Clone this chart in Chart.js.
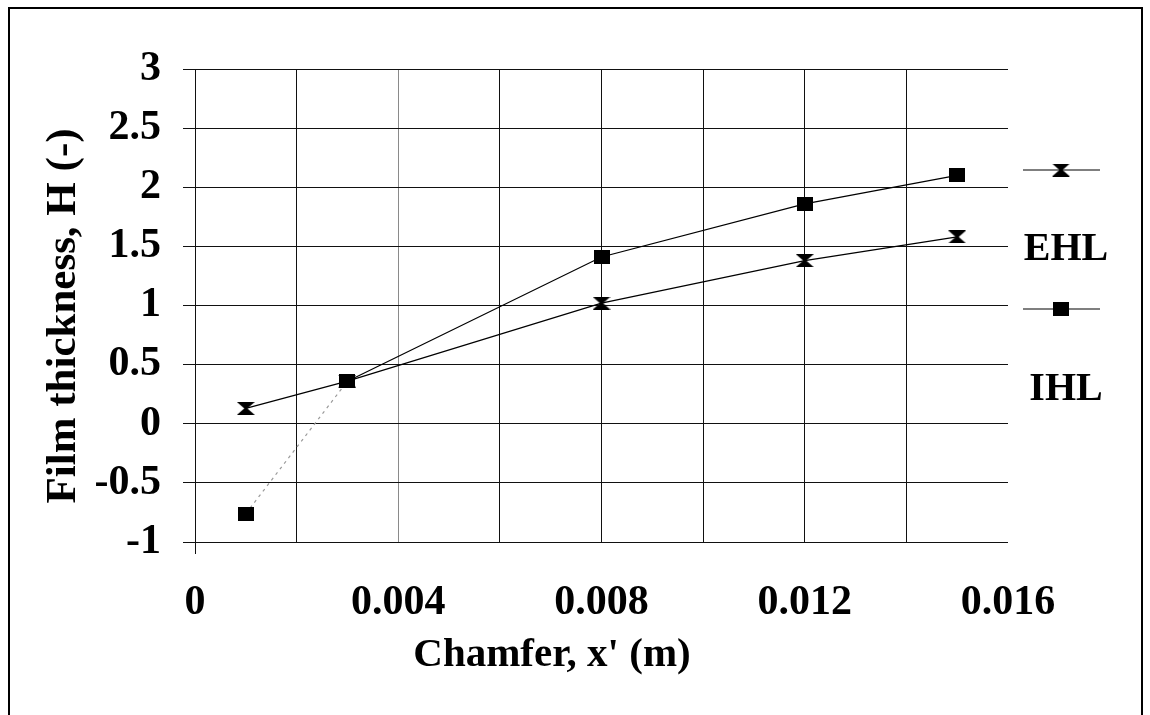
<!DOCTYPE html>
<html>
<head>
<meta charset="utf-8">
<script src="https://cdn.jsdelivr.net/npm/chart.js@4.4.0/dist/chart.umd.min.js"></script>
<style>
  html, body { margin: 0; padding: 0; background: #fff; }
  .wrap { position: relative; width: 1150px; height: 715px; overflow: hidden; }
  .frame { position: absolute; left: 8px; top: 7px; width: 1135px; height: 760px;
           border: 2px solid #000; box-sizing: border-box; pointer-events: none; }
  canvas { position: absolute; left: 0; top: 0; }
</style>
</head>
<body>
<div class="wrap">
  <canvas id="chart" width="1150" height="715"></canvas>
  <div class="frame"></div>
</div>
<script>
// values
const chamfer = [0.001, 0.003, 0.008, 0.012, 0.015];
const ehl = [0.13, 0.36, 1.02, 1.38, 1.58];
const ihl = [-0.76, 0.36, 1.41, 1.86, 2.1];
const seriesNames = ['EHL', 'IHL'];
const xTitle = "Chamfer, x' (m)";
const yTitle = 'Film thickness, H (-)';

const FONT = 'Liberation Serif, Times New Roman, serif';

// hourglass marker for EHL
function hourglass(w, h) {
  const c = document.createElement('canvas');
  c.width = w; c.height = h;
  const g = c.getContext('2d');
  g.fillStyle = '#000';
  g.beginPath();
  g.moveTo(0, 0);
  g.lineTo(w, 0);
  g.lineTo(w / 2 + 1.5, h / 2);
  g.lineTo(w, h);
  g.lineTo(0, h);
  g.lineTo(w / 2 - 1.5, h / 2);
  g.closePath();
  g.fill();
  return c;
}

// filled square marker for IHL
function block(w, h) {
  const c = document.createElement('canvas');
  c.width = w; c.height = h;
  const g = c.getContext('2d');
  g.fillStyle = '#000';
  g.fillRect(0, 0, w, h);
  return c;
}

const ehlMark = hourglass(18, 13);
const ihlMark = block(16, 14);

const toXY = (ys) => chamfer.map((x, i) => ({ x: x, y: ys[i] }));

// right-hand legend, marker above name
const sideLegend = {
  id: 'sideLegend',
  afterDraw(chart) {
    const ctx = chart.ctx;
    const rows = [
      { y: 170, ty: 250, mark: ehlMark, name: seriesNames[0] },
      { y: 309, ty: 390, mark: ihlMark, name: seriesNames[1] }
    ];
    ctx.save();
    rows.forEach((r) => {
      ctx.strokeStyle = '#000';
      ctx.lineWidth = 1.2;
      ctx.beginPath();
      ctx.moveTo(1023, r.y);
      ctx.lineTo(1100, r.y);
      ctx.stroke();
      ctx.drawImage(r.mark, 1061 - r.mark.width / 2, r.y - r.mark.height / 2);
      ctx.fillStyle = '#000';
      ctx.font = 'bold 40px ' + FONT;
      ctx.textAlign = 'center';
      ctx.textBaseline = 'middle';
      ctx.fillText(r.name, 1066, r.ty);
    });
    ctx.restore();
  }
};

// axis titles placed where the original has them
const axisTitles = {
  id: 'axisTitles',
  afterDraw(chart) {
    const ctx = chart.ctx;
    ctx.save();
    ctx.fillStyle = '#000';
    ctx.textAlign = 'center';
    ctx.textBaseline = 'middle';
    ctx.font = 'bold 41px ' + FONT;
    ctx.fillText(xTitle, 552, 655);
    ctx.translate(64, 316);
    ctx.rotate(-Math.PI / 2);
    ctx.font = 'bold 43px ' + FONT;
    ctx.fillText(yTitle, 0, 0);
    ctx.restore();
  }
};

new Chart(document.getElementById('chart'), {
  type: 'line',
  data: {
    datasets: [
      {
        label: seriesNames[0],
        data: toXY(ehl),
        borderColor: '#000',
        borderWidth: 1.2,
        pointStyle: ehlMark,
        tension: 0
      },
      {
        label: seriesNames[1],
        data: toXY(ihl),
        borderColor: '#000',
        borderWidth: 1.2,
        pointStyle: ihlMark,
        tension: 0,
        segment: {
          borderColor: (c) => c.p0DataIndex === 0 ? '#9a9a9a' : '#000',
          borderDash: (c) => c.p0DataIndex === 0 ? [3, 4] : undefined
        }
      }
    ]
  },
  options: {
    responsive: false,
    animation: false,
    devicePixelRatio: 1,
    layout: { padding: { left: 20, right: 142, top: 69, bottom: 20 } },
    plugins: {
      legend: { display: false },
      tooltip: { enabled: false }
    },
    scales: {
      x: {
        type: 'linear',
        min: 0,
        max: 0.016,
        afterFit: (s) => { s.height = 153; },
        border: { display: false },
        grid: {
          color: (c) => {
            const v = Math.round(c.tick.value * 1000);
            if (v >= 16) return 'rgba(0,0,0,0)';
            if (v === 4) return '#8a8a8a';
            return '#111';
          },
          lineWidth: 1,
          tickLength: 12,
          tickColor: (c) => c.index === 0 ? '#111' : 'rgba(0,0,0,0)'
        },
        ticks: {
          stepSize: 0.002,
          autoSkip: false,
          maxRotation: 0,
          padding: 24,
          color: '#000',
          font: { family: FONT, size: 42, weight: 'bold' },
          callback: (v) => {
            const m = Math.round(v * 1000);
            if (m % 4 !== 0) return '';
            return m === 0 ? '0' : (m / 1000).toFixed(3);
          }
        }
      },
      y: {
        min: -1,
        max: 3,
        afterFit: (s) => { s.width = 175; },
        border: { display: true, color: '#111', width: 1 },
        grid: { color: '#111', lineWidth: 1, tickLength: 12, tickColor: '#111' },
        ticks: {
          stepSize: 0.5,
          padding: 22,
          color: '#000',
          font: { family: FONT, size: 42, weight: 'bold' },
          callback: (v) => String(Math.round(v * 10) / 10)
        }
      }
    }
  },
  plugins: [sideLegend, axisTitles]
});
</script>
</body>
</html>
